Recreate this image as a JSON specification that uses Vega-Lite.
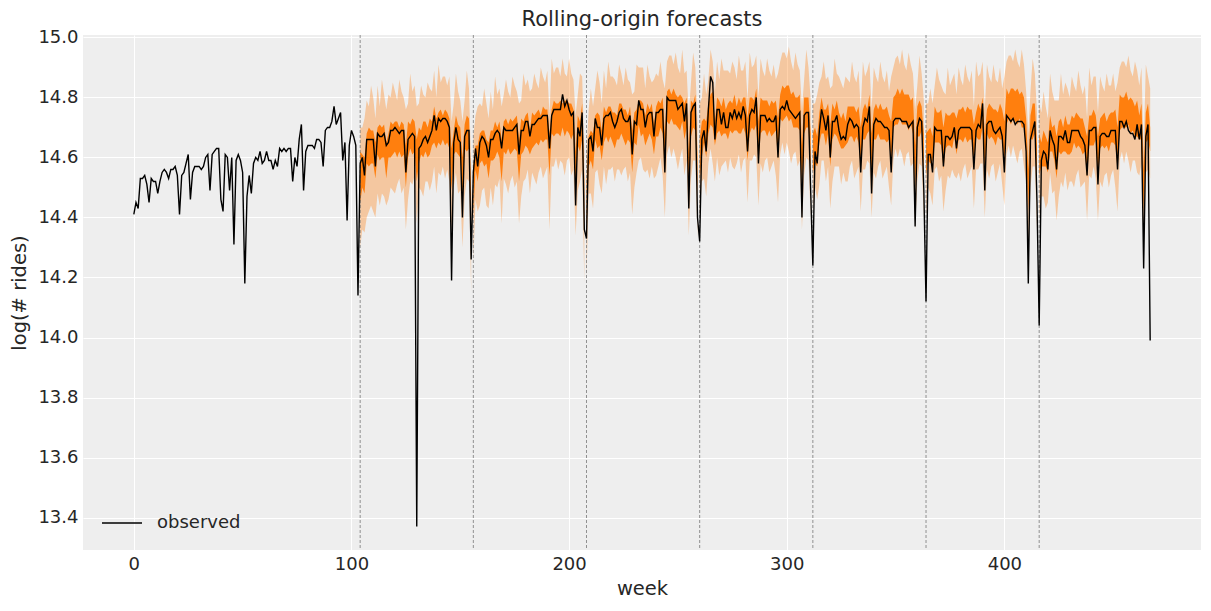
{
"$schema": "https://vega.github.io/schema/vega-lite/v6.json",
"width": 1118, "height": 515,
"autosize": {"type": "none"},
"padding": {"left": 83, "top": 35, "right": 10, "bottom": 61},
"background": "white",
"title": {"text": "Rolling-origin forecasts", "fontSize": 21, "fontWeight": "normal", "color": "#262626", "font": "DejaVu Sans", "frame": "group", "offset": -2},
"config": {
  "view": {"fill": "#eeeeee", "stroke": null},
  "font": "DejaVu Sans",
  "axis": {"grid": true, "gridColor": "#ffffff", "gridWidth": 1.1, "domain": false, "ticks": false, "labelFontSize": 18, "labelColor": "#262626", "titleFontSize": 19.5, "titleColor": "#262626", "titleFontWeight": "normal", "labelPadding": 5, "labelFont": "DejaVu Sans", "titleFont": "DejaVu Sans"},
  "legend": {"labelFont": "DejaVu Sans"}
},
"datasets": {
"origins": [{"origin":104},{"origin":156},{"origin":208},{"origin":260},{"origin":312},{"origin":364},{"origin":416}],
"obs": [
{"w":0,"y":14.41},{"w":1,"y":14.45},{"w":2,"y":14.43},{"w":3,"y":14.53},{"w":4,"y":14.53},{"w":5,"y":14.54},{"w":6,"y":14.51},{"w":7,"y":14.45},{"w":8,"y":14.53},{"w":9,"y":14.52},
{"w":10,"y":14.52},{"w":11,"y":14.48},{"w":12,"y":14.52},{"w":13,"y":14.55},{"w":14,"y":14.56},{"w":15,"y":14.55},{"w":16,"y":14.53},{"w":17,"y":14.56},{"w":18,"y":14.56},{"w":19,"y":14.57},
{"w":20,"y":14.54},{"w":21,"y":14.41},{"w":22,"y":14.54},{"w":23,"y":14.55},{"w":24,"y":14.58},{"w":25,"y":14.61},{"w":26,"y":14.46},{"w":27,"y":14.55},{"w":28,"y":14.57},{"w":29,"y":14.57},
{"w":30,"y":14.57},{"w":31,"y":14.56},{"w":32,"y":14.57},{"w":33,"y":14.60},{"w":34,"y":14.61},{"w":35,"y":14.49},{"w":36,"y":14.61},{"w":37,"y":14.62},{"w":38,"y":14.63},{"w":39,"y":14.63},
{"w":40,"y":14.46},{"w":41,"y":14.42},{"w":42,"y":14.61},{"w":43,"y":14.60},{"w":44,"y":14.49},{"w":45,"y":14.60},{"w":46,"y":14.31},{"w":47,"y":14.59},{"w":48,"y":14.61},{"w":49,"y":14.59},
{"w":50,"y":14.55},{"w":51,"y":14.18},{"w":52,"y":14.47},{"w":53,"y":14.54},{"w":54,"y":14.48},{"w":55,"y":14.58},{"w":56,"y":14.60},{"w":57,"y":14.59},{"w":58,"y":14.62},{"w":59,"y":14.58},
{"w":60,"y":14.59},{"w":61,"y":14.62},{"w":62,"y":14.59},{"w":63,"y":14.59},{"w":64,"y":14.56},{"w":65,"y":14.59},{"w":66,"y":14.57},{"w":67,"y":14.63},{"w":68,"y":14.62},{"w":69,"y":14.63},
{"w":70,"y":14.62},{"w":71,"y":14.63},{"w":72,"y":14.63},{"w":73,"y":14.52},{"w":74,"y":14.60},{"w":75,"y":14.57},{"w":76,"y":14.66},{"w":77,"y":14.71},{"w":78,"y":14.49},{"w":79,"y":14.62},
{"w":80,"y":14.64},{"w":81,"y":14.64},{"w":82,"y":14.64},{"w":83,"y":14.63},{"w":84,"y":14.66},{"w":85,"y":14.66},{"w":86,"y":14.65},{"w":87,"y":14.57},{"w":88,"y":14.69},{"w":89,"y":14.70},
{"w":90,"y":14.70},{"w":91,"y":14.72},{"w":92,"y":14.77},{"w":93,"y":14.71},{"w":94,"y":14.73},{"w":95,"y":14.75},{"w":96,"y":14.59},{"w":97,"y":14.65},{"w":98,"y":14.39},{"w":99,"y":14.64},
{"w":100,"y":14.69},{"w":101,"y":14.67},{"w":102,"y":14.64},{"w":103,"y":14.14},{"w":104,"y":14.58},{"w":105,"y":14.60},{"w":106,"y":14.54},{"w":107,"y":14.66},{"w":108,"y":14.66},{"w":109,"y":14.66},
{"w":110,"y":14.66},{"w":111,"y":14.57},{"w":112,"y":14.68},{"w":113,"y":14.67},{"w":114,"y":14.67},{"w":115,"y":14.68},{"w":116,"y":14.64},{"w":117,"y":14.65},{"w":118,"y":14.69},{"w":119,"y":14.69},
{"w":120,"y":14.70},{"w":121,"y":14.69},{"w":122,"y":14.68},{"w":123,"y":14.69},{"w":124,"y":14.69},{"w":125,"y":14.55},{"w":126,"y":14.66},{"w":127,"y":14.67},{"w":128,"y":14.68},{"w":129,"y":14.67},
{"w":130,"y":13.37},{"w":131,"y":14.63},{"w":132,"y":14.64},{"w":133,"y":14.66},{"w":134,"y":14.67},{"w":135,"y":14.65},{"w":136,"y":14.67},{"w":137,"y":14.69},{"w":138,"y":14.74},{"w":139,"y":14.69},
{"w":140,"y":14.73},{"w":141,"y":14.72},{"w":142,"y":14.73},{"w":143,"y":14.73},{"w":144,"y":14.72},{"w":145,"y":14.70},{"w":146,"y":14.19},{"w":147,"y":14.65},{"w":148,"y":14.70},{"w":149,"y":14.66},
{"w":150,"y":14.65},{"w":151,"y":14.40},{"w":152,"y":14.67},{"w":153,"y":14.69},{"w":154,"y":14.69},{"w":155,"y":14.26},{"w":156,"y":14.55},{"w":157,"y":14.63},{"w":158,"y":14.57},{"w":159,"y":14.65},
{"w":160,"y":14.67},{"w":161,"y":14.66},{"w":162,"y":14.64},{"w":163,"y":14.60},{"w":164,"y":14.66},{"w":165,"y":14.66},{"w":166,"y":14.68},{"w":167,"y":14.69},{"w":168,"y":14.68},{"w":169,"y":14.63},
{"w":170,"y":14.70},{"w":171,"y":14.69},{"w":172,"y":14.69},{"w":173,"y":14.69},{"w":174,"y":14.69},{"w":175,"y":14.70},{"w":176,"y":14.71},{"w":177,"y":14.61},{"w":178,"y":14.69},{"w":179,"y":14.69},
{"w":180,"y":14.72},{"w":181,"y":14.72},{"w":182,"y":14.67},{"w":183,"y":14.71},{"w":184,"y":14.71},{"w":185,"y":14.72},{"w":186,"y":14.73},{"w":187,"y":14.73},{"w":188,"y":14.74},{"w":189,"y":14.74},
{"w":190,"y":14.74},{"w":191,"y":14.63},{"w":192,"y":14.74},{"w":193,"y":14.76},{"w":194,"y":14.76},{"w":195,"y":14.76},{"w":196,"y":14.76},{"w":197,"y":14.81},{"w":198,"y":14.77},{"w":199,"y":14.79},
{"w":200,"y":14.76},{"w":201,"y":14.74},{"w":202,"y":14.75},{"w":203,"y":14.44},{"w":204,"y":14.70},{"w":205,"y":14.67},{"w":206,"y":14.75},{"w":207,"y":14.36},{"w":208,"y":14.33},{"w":209,"y":14.66},
{"w":210,"y":14.67},{"w":211,"y":14.62},{"w":212,"y":14.73},{"w":213,"y":14.70},{"w":214,"y":14.70},{"w":215,"y":14.64},{"w":216,"y":14.73},{"w":217,"y":14.74},{"w":218,"y":14.74},{"w":219,"y":14.75},
{"w":220,"y":14.72},{"w":221,"y":14.70},{"w":222,"y":14.72},{"w":223,"y":14.75},{"w":224,"y":14.76},{"w":225,"y":14.73},{"w":226,"y":14.72},{"w":227,"y":14.72},{"w":228,"y":14.74},{"w":229,"y":14.61},
{"w":230,"y":14.72},{"w":231,"y":14.71},{"w":232,"y":14.79},{"w":233,"y":14.76},{"w":234,"y":14.76},{"w":235,"y":14.70},{"w":236,"y":14.74},{"w":237,"y":14.75},{"w":238,"y":14.75},{"w":239,"y":14.67},
{"w":240,"y":14.75},{"w":241,"y":14.75},{"w":242,"y":14.76},{"w":243,"y":14.76},{"w":244,"y":14.55},{"w":245,"y":14.80},{"w":246,"y":14.79},{"w":247,"y":14.79},{"w":248,"y":14.79},{"w":249,"y":14.79},
{"w":250,"y":14.76},{"w":251,"y":14.77},{"w":252,"y":14.78},{"w":253,"y":14.72},{"w":254,"y":14.78},{"w":255,"y":14.43},{"w":256,"y":14.75},{"w":257,"y":14.77},{"w":258,"y":14.78},{"w":259,"y":14.40},
{"w":260,"y":14.32},{"w":261,"y":14.66},{"w":262,"y":14.69},{"w":263,"y":14.62},{"w":264,"y":14.76},{"w":265,"y":14.87},{"w":266,"y":14.85},{"w":267,"y":14.66},{"w":268,"y":14.76},{"w":269,"y":14.76},
{"w":270,"y":14.71},{"w":271,"y":14.75},{"w":272,"y":14.70},{"w":273,"y":14.70},{"w":274,"y":14.75},{"w":275,"y":14.73},{"w":276,"y":14.76},{"w":277,"y":14.73},{"w":278,"y":14.75},{"w":279,"y":14.73},
{"w":280,"y":14.77},{"w":281,"y":14.74},{"w":282,"y":14.62},{"w":283,"y":14.74},{"w":284,"y":14.76},{"w":285,"y":14.75},{"w":286,"y":14.80},{"w":287,"y":14.58},{"w":288,"y":14.74},{"w":289,"y":14.74},
{"w":290,"y":14.74},{"w":291,"y":14.72},{"w":292,"y":14.73},{"w":293,"y":14.72},{"w":294,"y":14.72},{"w":295,"y":14.74},{"w":296,"y":14.60},{"w":297,"y":14.76},{"w":298,"y":14.77},{"w":299,"y":14.76},
{"w":300,"y":14.79},{"w":301,"y":14.76},{"w":302,"y":14.75},{"w":303,"y":14.74},{"w":304,"y":14.73},{"w":305,"y":14.74},{"w":306,"y":14.75},{"w":307,"y":14.40},{"w":308,"y":14.74},{"w":309,"y":14.75},
{"w":310,"y":14.75},{"w":311,"y":14.49},{"w":312,"y":14.24},{"w":313,"y":14.62},{"w":314,"y":14.58},{"w":315,"y":14.69},{"w":316,"y":14.76},{"w":317,"y":14.73},{"w":318,"y":14.69},{"w":319,"y":14.74},
{"w":320,"y":14.60},{"w":321,"y":14.72},{"w":322,"y":14.72},{"w":323,"y":14.74},{"w":324,"y":14.69},{"w":325,"y":14.66},{"w":326,"y":14.67},{"w":327,"y":14.66},{"w":328,"y":14.71},{"w":329,"y":14.73},
{"w":330,"y":14.72},{"w":331,"y":14.70},{"w":332,"y":14.71},{"w":333,"y":14.70},{"w":334,"y":14.55},{"w":335,"y":14.70},{"w":336,"y":14.73},{"w":337,"y":14.72},{"w":338,"y":14.77},{"w":339,"y":14.48},
{"w":340,"y":14.71},{"w":341,"y":14.73},{"w":342,"y":14.72},{"w":343,"y":14.72},{"w":344,"y":14.71},{"w":345,"y":14.70},{"w":346,"y":14.70},{"w":347,"y":14.69},{"w":348,"y":14.55},{"w":349,"y":14.72},
{"w":350,"y":14.73},{"w":351,"y":14.73},{"w":352,"y":14.73},{"w":353,"y":14.72},{"w":354,"y":14.72},{"w":355,"y":14.72},{"w":356,"y":14.70},{"w":357,"y":14.71},{"w":358,"y":14.72},{"w":359,"y":14.37},
{"w":360,"y":14.70},{"w":361,"y":14.73},{"w":362,"y":14.72},{"w":363,"y":14.49},{"w":364,"y":14.12},{"w":365,"y":14.61},{"w":366,"y":14.61},{"w":367,"y":14.55},{"w":368,"y":14.70},{"w":369,"y":14.69},
{"w":370,"y":14.69},{"w":371,"y":14.69},{"w":372,"y":14.57},{"w":373,"y":14.67},{"w":374,"y":14.67},{"w":375,"y":14.66},{"w":376,"y":14.67},{"w":377,"y":14.70},{"w":378,"y":14.63},{"w":379,"y":14.69},
{"w":380,"y":14.70},{"w":381,"y":14.70},{"w":382,"y":14.70},{"w":383,"y":14.70},{"w":384,"y":14.70},{"w":385,"y":14.69},{"w":386,"y":14.56},{"w":387,"y":14.69},{"w":388,"y":14.71},{"w":389,"y":14.70},
{"w":390,"y":14.78},{"w":391,"y":14.49},{"w":392,"y":14.71},{"w":393,"y":14.72},{"w":394,"y":14.72},{"w":395,"y":14.69},{"w":396,"y":14.68},{"w":397,"y":14.69},{"w":398,"y":14.70},{"w":399,"y":14.67},
{"w":400,"y":14.55},{"w":401,"y":14.74},{"w":402,"y":14.73},{"w":403,"y":14.72},{"w":404,"y":14.73},{"w":405,"y":14.71},{"w":406,"y":14.72},{"w":407,"y":14.72},{"w":408,"y":14.72},{"w":409,"y":14.71},
{"w":410,"y":14.62},{"w":411,"y":14.18},{"w":412,"y":14.66},{"w":413,"y":14.69},{"w":414,"y":14.72},{"w":415,"y":14.45},{"w":416,"y":14.04},{"w":417,"y":14.59},{"w":418,"y":14.62},{"w":419,"y":14.61},
{"w":420,"y":14.56},{"w":421,"y":14.69},{"w":422,"y":14.66},{"w":423,"y":14.64},{"w":424,"y":14.56},{"w":425,"y":14.67},{"w":426,"y":14.67},{"w":427,"y":14.66},{"w":428,"y":14.69},{"w":429,"y":14.65},
{"w":430,"y":14.65},{"w":431,"y":14.69},{"w":432,"y":14.69},{"w":433,"y":14.69},{"w":434,"y":14.69},{"w":435,"y":14.67},{"w":436,"y":14.66},{"w":437,"y":14.64},{"w":438,"y":14.54},{"w":439,"y":14.69},
{"w":440,"y":14.69},{"w":441,"y":14.70},{"w":442,"y":14.70},{"w":443,"y":14.51},{"w":444,"y":14.67},{"w":445,"y":14.68},{"w":446,"y":14.68},{"w":447,"y":14.67},{"w":448,"y":14.67},{"w":449,"y":14.69},
{"w":450,"y":14.69},{"w":451,"y":14.69},{"w":452,"y":14.56},{"w":453,"y":14.72},{"w":454,"y":14.72},{"w":455,"y":14.70},{"w":456,"y":14.72},{"w":457,"y":14.69},{"w":458,"y":14.68},{"w":459,"y":14.68},
{"w":460,"y":14.66},{"w":461,"y":14.71},{"w":462,"y":14.66},{"w":463,"y":14.71},{"w":464,"y":14.23},{"w":465,"y":14.67},{"w":466,"y":14.71},{"w":467,"y":13.99}
],
"fc": [
{"w":104,"s":1,"lo94":14.30,"lo50":14.45,"hi50":14.62,"hi94":14.70},
{"w":105,"s":1,"lo94":14.36,"lo50":14.50,"hi50":14.61,"hi94":14.70},
{"w":106,"s":1,"lo94":14.35,"lo50":14.48,"hi50":14.60,"hi94":14.73},
{"w":107,"s":1,"lo94":14.40,"lo50":14.58,"hi50":14.68,"hi94":14.79},
{"w":108,"s":1,"lo94":14.42,"lo50":14.57,"hi50":14.70,"hi94":14.77},
{"w":109,"s":1,"lo94":14.44,"lo50":14.58,"hi50":14.69,"hi94":14.84},
{"w":110,"s":1,"lo94":14.42,"lo50":14.58,"hi50":14.69,"hi94":14.80},
{"w":111,"s":1,"lo94":14.40,"lo50":14.53,"hi50":14.65,"hi94":14.73},
{"w":112,"s":1,"lo94":14.48,"lo50":14.61,"hi50":14.70,"hi94":14.84},
{"w":113,"s":1,"lo94":14.44,"lo50":14.59,"hi50":14.71,"hi94":14.77},
{"w":114,"s":1,"lo94":14.48,"lo50":14.60,"hi50":14.70,"hi94":14.86},
{"w":115,"s":1,"lo94":14.47,"lo50":14.60,"hi50":14.71,"hi94":14.81},
{"w":116,"s":1,"lo94":14.44,"lo50":14.53,"hi50":14.65,"hi94":14.76},
{"w":117,"s":1,"lo94":14.46,"lo50":14.60,"hi50":14.68,"hi94":14.81},
{"w":118,"s":1,"lo94":14.50,"lo50":14.60,"hi50":14.72,"hi94":14.80},
{"w":119,"s":1,"lo94":14.49,"lo50":14.61,"hi50":14.71,"hi94":14.85},
{"w":120,"s":1,"lo94":14.48,"lo50":14.62,"hi50":14.72,"hi94":14.82},
{"w":121,"s":1,"lo94":14.51,"lo50":14.60,"hi50":14.72,"hi94":14.79},
{"w":122,"s":1,"lo94":14.53,"lo50":14.62,"hi50":14.70,"hi94":14.86},
{"w":123,"s":1,"lo94":14.48,"lo50":14.60,"hi50":14.72,"hi94":14.82},
{"w":124,"s":1,"lo94":14.50,"lo50":14.61,"hi50":14.71,"hi94":14.80},
{"w":125,"s":1,"lo94":14.36,"lo50":14.50,"hi50":14.64,"hi94":14.76},
{"w":126,"s":1,"lo94":14.46,"lo50":14.60,"hi50":14.72,"hi94":14.78},
{"w":127,"s":1,"lo94":14.52,"lo50":14.63,"hi50":14.71,"hi94":14.88},
{"w":128,"s":1,"lo94":14.51,"lo50":14.61,"hi50":14.73,"hi94":14.82},
{"w":129,"s":1,"lo94":14.54,"lo50":14.62,"hi50":14.72,"hi94":14.84},
{"w":130,"s":1,"lo94":14.38,"lo50":14.52,"hi50":14.66,"hi94":14.77},
{"w":131,"s":1,"lo94":14.50,"lo50":14.58,"hi50":14.70,"hi94":14.78},
{"w":132,"s":1,"lo94":14.49,"lo50":14.61,"hi50":14.69,"hi94":14.84},
{"w":133,"s":1,"lo94":14.47,"lo50":14.60,"hi50":14.72,"hi94":14.81},
{"w":134,"s":1,"lo94":14.52,"lo50":14.62,"hi50":14.72,"hi94":14.80},
{"w":135,"s":1,"lo94":14.52,"lo50":14.60,"hi50":14.70,"hi94":14.85},
{"w":136,"s":1,"lo94":14.49,"lo50":14.61,"hi50":14.73,"hi94":14.83},
{"w":137,"s":1,"lo94":14.52,"lo50":14.64,"hi50":14.72,"hi94":14.82},
{"w":138,"s":1,"lo94":14.57,"lo50":14.65,"hi50":14.77,"hi94":14.89},
{"w":139,"s":1,"lo94":14.48,"lo50":14.63,"hi50":14.73,"hi94":14.80},
{"w":140,"s":1,"lo94":14.55,"lo50":14.65,"hi50":14.75,"hi94":14.91},
{"w":141,"s":1,"lo94":14.54,"lo50":14.64,"hi50":14.76,"hi94":14.85},
{"w":142,"s":1,"lo94":14.57,"lo50":14.66,"hi50":14.74,"hi94":14.87},
{"w":143,"s":1,"lo94":14.53,"lo50":14.64,"hi50":14.76,"hi94":14.87},
{"w":144,"s":1,"lo94":14.56,"lo50":14.65,"hi50":14.75,"hi94":14.84},
{"w":145,"s":1,"lo94":14.52,"lo50":14.63,"hi50":14.73,"hi94":14.87},
{"w":146,"s":1,"lo94":14.35,"lo50":14.49,"hi50":14.63,"hi94":14.72},
{"w":147,"s":1,"lo94":14.50,"lo50":14.61,"hi50":14.69,"hi94":14.78},
{"w":148,"s":1,"lo94":14.55,"lo50":14.62,"hi50":14.74,"hi94":14.88},
{"w":149,"s":1,"lo94":14.48,"lo50":14.61,"hi50":14.71,"hi94":14.82},
{"w":150,"s":1,"lo94":14.49,"lo50":14.60,"hi50":14.70,"hi94":14.79},
{"w":151,"s":1,"lo94":14.30,"lo50":14.46,"hi50":14.60,"hi94":14.72},
{"w":152,"s":1,"lo94":14.47,"lo50":14.63,"hi50":14.71,"hi94":14.79},
{"w":153,"s":1,"lo94":14.53,"lo50":14.62,"hi50":14.74,"hi94":14.89},
{"w":154,"s":1,"lo94":14.52,"lo50":14.63,"hi50":14.73,"hi94":14.83},
{"w":155,"s":1,"lo94":14.15,"lo50":14.30,"hi50":14.48,"hi94":14.57},
{"w":156,"s":2,"lo94":14.25,"lo50":14.40,"hi50":14.57,"hi94":14.67},
{"w":157,"s":2,"lo94":14.46,"lo50":14.56,"hi50":14.64,"hi94":14.74},
{"w":158,"s":2,"lo94":14.42,"lo50":14.52,"hi50":14.64,"hi94":14.77},
{"w":159,"s":2,"lo94":14.44,"lo50":14.58,"hi50":14.68,"hi94":14.78},
{"w":160,"s":2,"lo94":14.49,"lo50":14.59,"hi50":14.69,"hi94":14.77},
{"w":161,"s":2,"lo94":14.50,"lo50":14.57,"hi50":14.69,"hi94":14.83},
{"w":162,"s":2,"lo94":14.44,"lo50":14.58,"hi50":14.66,"hi94":14.78},
{"w":163,"s":2,"lo94":14.43,"lo50":14.53,"hi50":14.65,"hi94":14.73},
{"w":164,"s":2,"lo94":14.50,"lo50":14.59,"hi50":14.69,"hi94":14.82},
{"w":165,"s":2,"lo94":14.44,"lo50":14.59,"hi50":14.69,"hi94":14.76},
{"w":166,"s":2,"lo94":14.51,"lo50":14.60,"hi50":14.72,"hi94":14.87},
{"w":167,"s":2,"lo94":14.50,"lo50":14.62,"hi50":14.70,"hi94":14.81},
{"w":168,"s":2,"lo94":14.53,"lo50":14.60,"hi50":14.72,"hi94":14.83},
{"w":169,"s":2,"lo94":14.38,"lo50":14.52,"hi50":14.66,"hi94":14.77},
{"w":170,"s":2,"lo94":14.53,"lo50":14.62,"hi50":14.72,"hi94":14.81},
{"w":171,"s":2,"lo94":14.51,"lo50":14.61,"hi50":14.73,"hi94":14.86},
{"w":172,"s":2,"lo94":14.48,"lo50":14.63,"hi50":14.71,"hi94":14.82},
{"w":173,"s":2,"lo94":14.52,"lo50":14.61,"hi50":14.73,"hi94":14.80},
{"w":174,"s":2,"lo94":14.54,"lo50":14.62,"hi50":14.72,"hi94":14.87},
{"w":175,"s":2,"lo94":14.50,"lo50":14.63,"hi50":14.73,"hi94":14.84},
{"w":176,"s":2,"lo94":14.52,"lo50":14.62,"hi50":14.74,"hi94":14.82},
{"w":177,"s":2,"lo94":14.38,"lo50":14.52,"hi50":14.66,"hi94":14.78},
{"w":178,"s":2,"lo94":14.47,"lo50":14.61,"hi50":14.73,"hi94":14.79},
{"w":179,"s":2,"lo94":14.52,"lo50":14.62,"hi50":14.72,"hi94":14.88},
{"w":180,"s":2,"lo94":14.53,"lo50":14.64,"hi50":14.74,"hi94":14.84},
{"w":181,"s":2,"lo94":14.56,"lo50":14.63,"hi50":14.75,"hi94":14.86},
{"w":182,"s":2,"lo94":14.48,"lo50":14.61,"hi50":14.69,"hi94":14.82},
{"w":183,"s":2,"lo94":14.55,"lo50":14.63,"hi50":14.75,"hi94":14.83},
{"w":184,"s":2,"lo94":14.53,"lo50":14.64,"hi50":14.74,"hi94":14.88},
{"w":185,"s":2,"lo94":14.51,"lo50":14.65,"hi50":14.75,"hi94":14.85},
{"w":186,"s":2,"lo94":14.55,"lo50":14.64,"hi50":14.76,"hi94":14.83},
{"w":187,"s":2,"lo94":14.57,"lo50":14.66,"hi50":14.74,"hi94":14.90},
{"w":188,"s":2,"lo94":14.53,"lo50":14.65,"hi50":14.77,"hi94":14.87},
{"w":189,"s":2,"lo94":14.55,"lo50":14.66,"hi50":14.76,"hi94":14.85},
{"w":190,"s":2,"lo94":14.57,"lo50":14.66,"hi50":14.76,"hi94":14.89},
{"w":191,"s":2,"lo94":14.36,"lo50":14.54,"hi50":14.68,"hi94":14.74},
{"w":192,"s":2,"lo94":14.57,"lo50":14.68,"hi50":14.76,"hi94":14.93},
{"w":193,"s":2,"lo94":14.57,"lo50":14.67,"hi50":14.79,"hi94":14.88},
{"w":194,"s":2,"lo94":14.60,"lo50":14.68,"hi50":14.78,"hi94":14.90},
{"w":195,"s":2,"lo94":14.56,"lo50":14.68,"hi50":14.78,"hi94":14.90},
{"w":196,"s":2,"lo94":14.59,"lo50":14.67,"hi50":14.79,"hi94":14.87},
{"w":197,"s":2,"lo94":14.58,"lo50":14.70,"hi50":14.78,"hi94":14.93},
{"w":198,"s":2,"lo94":14.54,"lo50":14.67,"hi50":14.79,"hi94":14.88},
{"w":199,"s":2,"lo94":14.59,"lo50":14.69,"hi50":14.79,"hi94":14.87},
{"w":200,"s":2,"lo94":14.60,"lo50":14.68,"hi50":14.78,"hi94":14.93},
{"w":201,"s":2,"lo94":14.54,"lo50":14.66,"hi50":14.78,"hi94":14.88},
{"w":202,"s":2,"lo94":14.56,"lo50":14.68,"hi50":14.76,"hi94":14.86},
{"w":203,"s":2,"lo94":14.34,"lo50":14.48,"hi50":14.62,"hi94":14.74},
{"w":204,"s":2,"lo94":14.49,"lo50":14.64,"hi50":14.74,"hi94":14.81},
{"w":205,"s":2,"lo94":14.52,"lo50":14.62,"hi50":14.72,"hi94":14.88},
{"w":206,"s":2,"lo94":14.56,"lo50":14.66,"hi50":14.78,"hi94":14.87},
{"w":207,"s":2,"lo94":14.18,"lo50":14.35,"hi50":14.53,"hi94":14.62},
{"w":208,"s":3,"lo94":14.20,"lo50":14.35,"hi50":14.52,"hi94":14.62},
{"w":209,"s":3,"lo94":14.48,"lo50":14.57,"hi50":14.67,"hi94":14.76},
{"w":210,"s":3,"lo94":14.48,"lo50":14.59,"hi50":14.69,"hi94":14.83},
{"w":211,"s":3,"lo94":14.43,"lo50":14.56,"hi50":14.68,"hi94":14.77},
{"w":212,"s":3,"lo94":14.55,"lo50":14.66,"hi50":14.74,"hi94":14.83},
{"w":213,"s":3,"lo94":14.56,"lo50":14.63,"hi50":14.75,"hi94":14.89},
{"w":214,"s":3,"lo94":14.51,"lo50":14.64,"hi50":14.74,"hi94":14.85},
{"w":215,"s":3,"lo94":14.48,"lo50":14.59,"hi50":14.69,"hi94":14.78},
{"w":216,"s":3,"lo94":14.57,"lo50":14.65,"hi50":14.77,"hi94":14.89},
{"w":217,"s":3,"lo94":14.51,"lo50":14.67,"hi50":14.75,"hi94":14.83},
{"w":218,"s":3,"lo94":14.56,"lo50":14.65,"hi50":14.77,"hi94":14.92},
{"w":219,"s":3,"lo94":14.56,"lo50":14.67,"hi50":14.77,"hi94":14.87},
{"w":220,"s":3,"lo94":14.57,"lo50":14.65,"hi50":14.75,"hi94":14.87},
{"w":221,"s":3,"lo94":14.52,"lo50":14.63,"hi50":14.75,"hi94":14.86},
{"w":222,"s":3,"lo94":14.56,"lo50":14.66,"hi50":14.74,"hi94":14.84},
{"w":223,"s":3,"lo94":14.56,"lo50":14.66,"hi50":14.78,"hi94":14.91},
{"w":224,"s":3,"lo94":14.54,"lo50":14.68,"hi50":14.78,"hi94":14.88},
{"w":225,"s":3,"lo94":14.56,"lo50":14.66,"hi50":14.76,"hi94":14.84},
{"w":226,"s":3,"lo94":14.57,"lo50":14.64,"hi50":14.76,"hi94":14.90},
{"w":227,"s":3,"lo94":14.52,"lo50":14.66,"hi50":14.74,"hi94":14.86},
{"w":228,"s":3,"lo94":14.55,"lo50":14.65,"hi50":14.77,"hi94":14.85},
{"w":229,"s":3,"lo94":14.41,"lo50":14.55,"hi50":14.69,"hi94":14.81},
{"w":230,"s":3,"lo94":14.50,"lo50":14.65,"hi50":14.75,"hi94":14.82},
{"w":231,"s":3,"lo94":14.55,"lo50":14.64,"hi50":14.76,"hi94":14.91},
{"w":232,"s":3,"lo94":14.59,"lo50":14.71,"hi50":14.79,"hi94":14.90},
{"w":233,"s":3,"lo94":14.60,"lo50":14.67,"hi50":14.79,"hi94":14.90},
{"w":234,"s":3,"lo94":14.56,"lo50":14.68,"hi50":14.78,"hi94":14.90},
{"w":235,"s":3,"lo94":14.55,"lo50":14.64,"hi50":14.74,"hi94":14.83},
{"w":236,"s":3,"lo94":14.56,"lo50":14.66,"hi50":14.78,"hi94":14.91},
{"w":237,"s":3,"lo94":14.53,"lo50":14.68,"hi50":14.76,"hi94":14.87},
{"w":238,"s":3,"lo94":14.57,"lo50":14.66,"hi50":14.78,"hi94":14.85},
{"w":239,"s":3,"lo94":14.53,"lo50":14.61,"hi50":14.71,"hi94":14.86},
{"w":240,"s":3,"lo94":14.54,"lo50":14.67,"hi50":14.77,"hi94":14.88},
{"w":241,"s":3,"lo94":14.57,"lo50":14.67,"hi50":14.79,"hi94":14.87},
{"w":242,"s":3,"lo94":14.60,"lo50":14.70,"hi50":14.78,"hi94":14.92},
{"w":243,"s":3,"lo94":14.54,"lo50":14.68,"hi50":14.80,"hi94":14.86},
{"w":244,"s":3,"lo94":14.40,"lo50":14.54,"hi50":14.68,"hi94":14.83},
{"w":245,"s":3,"lo94":14.61,"lo50":14.72,"hi50":14.82,"hi94":14.92},
{"w":246,"s":3,"lo94":14.64,"lo50":14.71,"hi50":14.83,"hi94":14.94},
{"w":247,"s":3,"lo94":14.60,"lo50":14.73,"hi50":14.81,"hi94":14.94},
{"w":248,"s":3,"lo94":14.63,"lo50":14.71,"hi50":14.83,"hi94":14.91},
{"w":249,"s":3,"lo94":14.60,"lo50":14.71,"hi50":14.81,"hi94":14.95},
{"w":250,"s":3,"lo94":14.56,"lo50":14.70,"hi50":14.80,"hi94":14.90},
{"w":251,"s":3,"lo94":14.60,"lo50":14.69,"hi50":14.81,"hi94":14.88},
{"w":252,"s":3,"lo94":14.63,"lo50":14.72,"hi50":14.80,"hi94":14.96},
{"w":253,"s":3,"lo94":14.54,"lo50":14.66,"hi50":14.78,"hi94":14.88},
{"w":254,"s":3,"lo94":14.59,"lo50":14.70,"hi50":14.80,"hi94":14.89},
{"w":255,"s":3,"lo94":14.34,"lo50":14.48,"hi50":14.62,"hi94":14.74},
{"w":256,"s":3,"lo94":14.53,"lo50":14.67,"hi50":14.79,"hi94":14.85},
{"w":257,"s":3,"lo94":14.59,"lo50":14.70,"hi50":14.78,"hi94":14.95},
{"w":258,"s":3,"lo94":14.59,"lo50":14.69,"hi50":14.81,"hi94":14.90},
{"w":259,"s":3,"lo94":14.33,"lo50":14.47,"hi50":14.61,"hi94":14.72},
{"w":260,"s":4,"lo94":14.40,"lo50":14.52,"hi50":14.66,"hi94":14.78},
{"w":261,"s":4,"lo94":14.52,"lo50":14.60,"hi50":14.72,"hi94":14.80},
{"w":262,"s":4,"lo94":14.53,"lo50":14.65,"hi50":14.73,"hi94":14.88},
{"w":263,"s":4,"lo94":14.47,"lo50":14.60,"hi50":14.72,"hi94":14.81},
{"w":264,"s":4,"lo94":14.58,"lo50":14.68,"hi50":14.78,"hi94":14.86},
{"w":265,"s":4,"lo94":14.63,"lo50":14.71,"hi50":14.81,"hi94":14.96},
{"w":266,"s":4,"lo94":14.58,"lo50":14.70,"hi50":14.82,"hi94":14.92},
{"w":267,"s":4,"lo94":14.52,"lo50":14.64,"hi50":14.72,"hi94":14.82},
{"w":268,"s":4,"lo94":14.60,"lo50":14.68,"hi50":14.80,"hi94":14.92},
{"w":269,"s":4,"lo94":14.54,"lo50":14.69,"hi50":14.79,"hi94":14.86},
{"w":270,"s":4,"lo94":14.57,"lo50":14.67,"hi50":14.77,"hi94":14.93},
{"w":271,"s":4,"lo94":14.58,"lo50":14.68,"hi50":14.80,"hi94":14.89},
{"w":272,"s":4,"lo94":14.59,"lo50":14.68,"hi50":14.76,"hi94":14.89},
{"w":273,"s":4,"lo94":14.55,"lo50":14.66,"hi50":14.78,"hi94":14.89},
{"w":274,"s":4,"lo94":14.60,"lo50":14.69,"hi50":14.79,"hi94":14.88},
{"w":275,"s":4,"lo94":14.57,"lo50":14.68,"hi50":14.78,"hi94":14.92},
{"w":276,"s":4,"lo94":14.56,"lo50":14.69,"hi50":14.81,"hi94":14.90},
{"w":277,"s":4,"lo94":14.58,"lo50":14.69,"hi50":14.77,"hi94":14.86},
{"w":278,"s":4,"lo94":14.61,"lo50":14.68,"hi50":14.80,"hi94":14.94},
{"w":279,"s":4,"lo94":14.55,"lo50":14.68,"hi50":14.78,"hi94":14.89},
{"w":280,"s":4,"lo94":14.59,"lo50":14.70,"hi50":14.80,"hi94":14.89},
{"w":281,"s":4,"lo94":14.60,"lo50":14.68,"hi50":14.80,"hi94":14.92},
{"w":282,"s":4,"lo94":14.45,"lo50":14.59,"hi50":14.73,"hi94":14.79},
{"w":283,"s":4,"lo94":14.59,"lo50":14.68,"hi50":14.80,"hi94":14.95},
{"w":284,"s":4,"lo94":14.59,"lo50":14.70,"hi50":14.80,"hi94":14.90},
{"w":285,"s":4,"lo94":14.61,"lo50":14.69,"hi50":14.79,"hi94":14.91},
{"w":286,"s":4,"lo94":14.60,"lo50":14.71,"hi50":14.83,"hi94":14.94},
{"w":287,"s":4,"lo94":14.44,"lo50":14.58,"hi50":14.72,"hi94":14.80},
{"w":288,"s":4,"lo94":14.58,"lo50":14.68,"hi50":14.80,"hi94":14.93},
{"w":289,"s":4,"lo94":14.55,"lo50":14.69,"hi50":14.79,"hi94":14.89},
{"w":290,"s":4,"lo94":14.59,"lo50":14.69,"hi50":14.79,"hi94":14.87},
{"w":291,"s":4,"lo94":14.60,"lo50":14.67,"hi50":14.79,"hi94":14.93},
{"w":292,"s":4,"lo94":14.55,"lo50":14.69,"hi50":14.77,"hi94":14.89},
{"w":293,"s":4,"lo94":14.57,"lo50":14.67,"hi50":14.79,"hi94":14.87},
{"w":294,"s":4,"lo94":14.59,"lo50":14.68,"hi50":14.78,"hi94":14.91},
{"w":295,"s":4,"lo94":14.54,"lo50":14.69,"hi50":14.79,"hi94":14.86},
{"w":296,"s":4,"lo94":14.45,"lo50":14.59,"hi50":14.73,"hi94":14.88},
{"w":297,"s":4,"lo94":14.61,"lo50":14.73,"hi50":14.81,"hi94":14.92},
{"w":298,"s":4,"lo94":14.65,"lo50":14.72,"hi50":14.84,"hi94":14.95},
{"w":299,"s":4,"lo94":14.61,"lo50":14.73,"hi50":14.83,"hi94":14.95},
{"w":300,"s":4,"lo94":14.65,"lo50":14.74,"hi50":14.84,"hi94":14.93},
{"w":301,"s":4,"lo94":14.62,"lo50":14.72,"hi50":14.84,"hi94":14.97},
{"w":302,"s":4,"lo94":14.58,"lo50":14.73,"hi50":14.81,"hi94":14.92},
{"w":303,"s":4,"lo94":14.61,"lo50":14.70,"hi50":14.82,"hi94":14.89},
{"w":304,"s":4,"lo94":14.62,"lo50":14.70,"hi50":14.80,"hi94":14.95},
{"w":305,"s":4,"lo94":14.57,"lo50":14.70,"hi50":14.80,"hi94":14.91},
{"w":306,"s":4,"lo94":14.59,"lo50":14.69,"hi50":14.81,"hi94":14.89},
{"w":307,"s":4,"lo94":14.36,"lo50":14.50,"hi50":14.64,"hi94":14.76},
{"w":308,"s":4,"lo94":14.54,"lo50":14.68,"hi50":14.80,"hi94":14.86},
{"w":309,"s":4,"lo94":14.60,"lo50":14.70,"hi50":14.80,"hi94":14.96},
{"w":310,"s":4,"lo94":14.59,"lo50":14.70,"hi50":14.80,"hi94":14.90},
{"w":311,"s":4,"lo94":14.40,"lo50":14.54,"hi50":14.68,"hi94":14.79},
{"w":312,"s":5,"lo94":14.42,"lo50":14.55,"hi50":14.68,"hi94":14.78},
{"w":313,"s":5,"lo94":14.50,"lo50":14.58,"hi50":14.70,"hi94":14.78},
{"w":314,"s":5,"lo94":14.46,"lo50":14.57,"hi50":14.67,"hi94":14.81},
{"w":315,"s":5,"lo94":14.51,"lo50":14.65,"hi50":14.75,"hi94":14.85},
{"w":316,"s":5,"lo94":14.59,"lo50":14.68,"hi50":14.80,"hi94":14.87},
{"w":317,"s":5,"lo94":14.59,"lo50":14.68,"hi50":14.76,"hi94":14.92},
{"w":318,"s":5,"lo94":14.52,"lo50":14.64,"hi50":14.76,"hi94":14.86},
{"w":319,"s":5,"lo94":14.57,"lo50":14.68,"hi50":14.78,"hi94":14.87},
{"w":320,"s":5,"lo94":14.43,"lo50":14.57,"hi50":14.71,"hi94":14.83},
{"w":321,"s":5,"lo94":14.52,"lo50":14.66,"hi50":14.78,"hi94":14.84},
{"w":322,"s":5,"lo94":14.57,"lo50":14.68,"hi50":14.76,"hi94":14.93},
{"w":323,"s":5,"lo94":14.57,"lo50":14.67,"hi50":14.79,"hi94":14.88},
{"w":324,"s":5,"lo94":14.57,"lo50":14.65,"hi50":14.75,"hi94":14.87},
{"w":325,"s":5,"lo94":14.51,"lo50":14.63,"hi50":14.73,"hi94":14.85},
{"w":326,"s":5,"lo94":14.55,"lo50":14.63,"hi50":14.75,"hi94":14.83},
{"w":327,"s":5,"lo94":14.52,"lo50":14.64,"hi50":14.72,"hi94":14.87},
{"w":328,"s":5,"lo94":14.52,"lo50":14.65,"hi50":14.77,"hi94":14.86},
{"w":329,"s":5,"lo94":14.57,"lo50":14.67,"hi50":14.77,"hi94":14.85},
{"w":330,"s":5,"lo94":14.59,"lo50":14.67,"hi50":14.77,"hi94":14.92},
{"w":331,"s":5,"lo94":14.53,"lo50":14.65,"hi50":14.77,"hi94":14.87},
{"w":332,"s":5,"lo94":14.55,"lo50":14.67,"hi50":14.75,"hi94":14.85},
{"w":333,"s":5,"lo94":14.57,"lo50":14.65,"hi50":14.77,"hi94":14.89},
{"w":334,"s":5,"lo94":14.42,"lo50":14.56,"hi50":14.70,"hi94":14.76},
{"w":335,"s":5,"lo94":14.56,"lo50":14.66,"hi50":14.76,"hi94":14.92},
{"w":336,"s":5,"lo94":14.56,"lo50":14.66,"hi50":14.78,"hi94":14.87},
{"w":337,"s":5,"lo94":14.59,"lo50":14.68,"hi50":14.76,"hi94":14.89},
{"w":338,"s":5,"lo94":14.58,"lo50":14.69,"hi50":14.81,"hi94":14.92},
{"w":339,"s":5,"lo94":14.40,"lo50":14.54,"hi50":14.68,"hi94":14.76},
{"w":340,"s":5,"lo94":14.55,"lo50":14.66,"hi50":14.76,"hi94":14.90},
{"w":341,"s":5,"lo94":14.53,"lo50":14.66,"hi50":14.78,"hi94":14.87},
{"w":342,"s":5,"lo94":14.57,"lo50":14.68,"hi50":14.76,"hi94":14.85},
{"w":343,"s":5,"lo94":14.59,"lo50":14.66,"hi50":14.78,"hi94":14.92},
{"w":344,"s":5,"lo94":14.53,"lo50":14.66,"hi50":14.76,"hi94":14.87},
{"w":345,"s":5,"lo94":14.55,"lo50":14.66,"hi50":14.76,"hi94":14.85},
{"w":346,"s":5,"lo94":14.57,"lo50":14.65,"hi50":14.77,"hi94":14.89},
{"w":347,"s":5,"lo94":14.50,"lo50":14.66,"hi50":14.74,"hi94":14.82},
{"w":348,"s":5,"lo94":14.44,"lo50":14.58,"hi50":14.72,"hi94":14.87},
{"w":349,"s":5,"lo94":14.59,"lo50":14.70,"hi50":14.80,"hi94":14.90},
{"w":350,"s":5,"lo94":14.63,"lo50":14.71,"hi50":14.81,"hi94":14.93},
{"w":351,"s":5,"lo94":14.60,"lo50":14.71,"hi50":14.83,"hi94":14.94},
{"w":352,"s":5,"lo94":14.63,"lo50":14.73,"hi50":14.81,"hi94":14.91},
{"w":353,"s":5,"lo94":14.61,"lo50":14.71,"hi50":14.83,"hi94":14.96},
{"w":354,"s":5,"lo94":14.57,"lo50":14.71,"hi50":14.81,"hi94":14.91},
{"w":355,"s":5,"lo94":14.61,"lo50":14.71,"hi50":14.81,"hi94":14.89},
{"w":356,"s":5,"lo94":14.62,"lo50":14.69,"hi50":14.81,"hi94":14.95},
{"w":357,"s":5,"lo94":14.57,"lo50":14.71,"hi50":14.79,"hi94":14.91},
{"w":358,"s":5,"lo94":14.58,"lo50":14.68,"hi50":14.80,"hi94":14.88},
{"w":359,"s":5,"lo94":14.36,"lo50":14.50,"hi50":14.64,"hi94":14.76},
{"w":360,"s":5,"lo94":14.52,"lo50":14.67,"hi50":14.77,"hi94":14.84},
{"w":361,"s":5,"lo94":14.58,"lo50":14.67,"hi50":14.79,"hi94":14.94},
{"w":362,"s":5,"lo94":14.57,"lo50":14.69,"hi50":14.77,"hi94":14.88},
{"w":363,"s":5,"lo94":14.40,"lo50":14.54,"hi50":14.68,"hi94":14.79},
{"w":364,"s":6,"lo94":14.40,"lo50":14.54,"hi50":14.68,"hi94":14.78},
{"w":365,"s":6,"lo94":14.50,"lo50":14.59,"hi50":14.69,"hi94":14.78},
{"w":366,"s":6,"lo94":14.48,"lo50":14.58,"hi50":14.70,"hi94":14.83},
{"w":367,"s":6,"lo94":14.44,"lo50":14.59,"hi50":14.67,"hi94":14.78},
{"w":368,"s":6,"lo94":14.56,"lo50":14.65,"hi50":14.77,"hi94":14.84},
{"w":369,"s":6,"lo94":14.57,"lo50":14.65,"hi50":14.75,"hi94":14.90},
{"w":370,"s":6,"lo94":14.52,"lo50":14.65,"hi50":14.75,"hi94":14.86},
{"w":371,"s":6,"lo94":14.54,"lo50":14.64,"hi50":14.76,"hi94":14.84},
{"w":372,"s":6,"lo94":14.42,"lo50":14.56,"hi50":14.70,"hi94":14.82},
{"w":373,"s":6,"lo94":14.49,"lo50":14.63,"hi50":14.75,"hi94":14.81},
{"w":374,"s":6,"lo94":14.54,"lo50":14.64,"hi50":14.74,"hi94":14.90},
{"w":375,"s":6,"lo94":14.53,"lo50":14.64,"hi50":14.74,"hi94":14.84},
{"w":376,"s":6,"lo94":14.56,"lo50":14.63,"hi50":14.75,"hi94":14.86},
{"w":377,"s":6,"lo94":14.54,"lo50":14.67,"hi50":14.75,"hi94":14.88},
{"w":378,"s":6,"lo94":14.53,"lo50":14.61,"hi50":14.73,"hi94":14.81},
{"w":379,"s":6,"lo94":14.55,"lo50":14.66,"hi50":14.76,"hi94":14.90},
{"w":380,"s":6,"lo94":14.52,"lo50":14.66,"hi50":14.76,"hi94":14.86},
{"w":381,"s":6,"lo94":14.56,"lo50":14.65,"hi50":14.77,"hi94":14.84},
{"w":382,"s":6,"lo94":14.58,"lo50":14.67,"hi50":14.75,"hi94":14.91},
{"w":383,"s":6,"lo94":14.53,"lo50":14.65,"hi50":14.77,"hi94":14.87},
{"w":384,"s":6,"lo94":14.55,"lo50":14.66,"hi50":14.76,"hi94":14.85},
{"w":385,"s":6,"lo94":14.57,"lo50":14.66,"hi50":14.76,"hi94":14.89},
{"w":386,"s":6,"lo94":14.43,"lo50":14.57,"hi50":14.71,"hi94":14.77},
{"w":387,"s":6,"lo94":14.56,"lo50":14.67,"hi50":14.75,"hi94":14.92},
{"w":388,"s":6,"lo94":14.56,"lo50":14.66,"hi50":14.78,"hi94":14.87},
{"w":389,"s":6,"lo94":14.58,"lo50":14.66,"hi50":14.76,"hi94":14.88},
{"w":390,"s":6,"lo94":14.58,"lo50":14.70,"hi50":14.80,"hi94":14.92},
{"w":391,"s":6,"lo94":14.40,"lo50":14.54,"hi50":14.68,"hi94":14.76},
{"w":392,"s":6,"lo94":14.56,"lo50":14.68,"hi50":14.76,"hi94":14.91},
{"w":393,"s":6,"lo94":14.53,"lo50":14.66,"hi50":14.78,"hi94":14.87},
{"w":394,"s":6,"lo94":14.57,"lo50":14.67,"hi50":14.77,"hi94":14.85},
{"w":395,"s":6,"lo94":14.58,"lo50":14.66,"hi50":14.76,"hi94":14.91},
{"w":396,"s":6,"lo94":14.52,"lo50":14.64,"hi50":14.76,"hi94":14.86},
{"w":397,"s":6,"lo94":14.55,"lo50":14.67,"hi50":14.75,"hi94":14.85},
{"w":398,"s":6,"lo94":14.58,"lo50":14.66,"hi50":14.78,"hi94":14.90},
{"w":399,"s":6,"lo94":14.51,"lo50":14.66,"hi50":14.76,"hi94":14.83},
{"w":400,"s":6,"lo94":14.44,"lo50":14.58,"hi50":14.72,"hi94":14.87},
{"w":401,"s":6,"lo94":14.61,"lo50":14.71,"hi50":14.83,"hi94":14.92},
{"w":402,"s":6,"lo94":14.64,"lo50":14.73,"hi50":14.81,"hi94":14.94},
{"w":403,"s":6,"lo94":14.60,"lo50":14.71,"hi50":14.83,"hi94":14.94},
{"w":404,"s":6,"lo94":14.64,"lo50":14.73,"hi50":14.83,"hi94":14.92},
{"w":405,"s":6,"lo94":14.61,"lo50":14.72,"hi50":14.82,"hi94":14.96},
{"w":406,"s":6,"lo94":14.58,"lo50":14.71,"hi50":14.83,"hi94":14.92},
{"w":407,"s":6,"lo94":14.62,"lo50":14.73,"hi50":14.81,"hi94":14.90},
{"w":408,"s":6,"lo94":14.63,"lo50":14.70,"hi50":14.82,"hi94":14.96},
{"w":409,"s":6,"lo94":14.57,"lo50":14.70,"hi50":14.80,"hi94":14.91},
{"w":410,"s":6,"lo94":14.52,"lo50":14.63,"hi50":14.73,"hi94":14.82},
{"w":411,"s":6,"lo94":14.28,"lo50":14.42,"hi50":14.56,"hi94":14.68},
{"w":412,"s":6,"lo94":14.50,"lo50":14.66,"hi50":14.74,"hi94":14.82},
{"w":413,"s":6,"lo94":14.57,"lo50":14.66,"hi50":14.78,"hi94":14.93},
{"w":414,"s":6,"lo94":14.57,"lo50":14.68,"hi50":14.78,"hi94":14.88},
{"w":415,"s":6,"lo94":14.36,"lo50":14.50,"hi50":14.64,"hi94":14.75},
{"w":416,"s":7,"lo94":14.40,"lo50":14.54,"hi50":14.68,"hi94":14.78},
{"w":417,"s":7,"lo94":14.47,"lo50":14.57,"hi50":14.65,"hi94":14.75},
{"w":418,"s":7,"lo94":14.47,"lo50":14.57,"hi50":14.69,"hi94":14.82},
{"w":419,"s":7,"lo94":14.43,"lo50":14.57,"hi50":14.67,"hi94":14.77},
{"w":420,"s":7,"lo94":14.45,"lo50":14.55,"hi50":14.65,"hi94":14.73},
{"w":421,"s":7,"lo94":14.55,"lo50":14.62,"hi50":14.74,"hi94":14.88},
{"w":422,"s":7,"lo94":14.48,"lo50":14.62,"hi50":14.70,"hi94":14.82},
{"w":423,"s":7,"lo94":14.49,"lo50":14.59,"hi50":14.71,"hi94":14.79},
{"w":424,"s":7,"lo94":14.39,"lo50":14.53,"hi50":14.67,"hi94":14.79},
{"w":425,"s":7,"lo94":14.47,"lo50":14.62,"hi50":14.72,"hi94":14.79},
{"w":426,"s":7,"lo94":14.52,"lo50":14.61,"hi50":14.73,"hi94":14.88},
{"w":427,"s":7,"lo94":14.50,"lo50":14.62,"hi50":14.70,"hi94":14.81},
{"w":428,"s":7,"lo94":14.55,"lo50":14.62,"hi50":14.74,"hi94":14.85},
{"w":429,"s":7,"lo94":14.49,"lo50":14.61,"hi50":14.71,"hi94":14.83},
{"w":430,"s":7,"lo94":14.52,"lo50":14.61,"hi50":14.71,"hi94":14.80},
{"w":431,"s":7,"lo94":14.52,"lo50":14.62,"hi50":14.74,"hi94":14.87},
{"w":432,"s":7,"lo94":14.50,"lo50":14.65,"hi50":14.73,"hi94":14.84},
{"w":433,"s":7,"lo94":14.54,"lo50":14.63,"hi50":14.75,"hi94":14.82},
{"w":434,"s":7,"lo94":14.56,"lo50":14.64,"hi50":14.74,"hi94":14.89},
{"w":435,"s":7,"lo94":14.50,"lo50":14.63,"hi50":14.73,"hi94":14.84},
{"w":436,"s":7,"lo94":14.51,"lo50":14.61,"hi50":14.73,"hi94":14.81},
{"w":437,"s":7,"lo94":14.52,"lo50":14.62,"hi50":14.70,"hi94":14.84},
{"w":438,"s":7,"lo94":14.39,"lo50":14.53,"hi50":14.67,"hi94":14.73},
{"w":439,"s":7,"lo94":14.54,"lo50":14.64,"hi50":14.74,"hi94":14.90},
{"w":440,"s":7,"lo94":14.53,"lo50":14.64,"hi50":14.74,"hi94":14.84},
{"w":441,"s":7,"lo94":14.57,"lo50":14.64,"hi50":14.76,"hi94":14.87},
{"w":442,"s":7,"lo94":14.53,"lo50":14.66,"hi50":14.74,"hi94":14.87},
{"w":443,"s":7,"lo94":14.39,"lo50":14.53,"hi50":14.67,"hi94":14.75},
{"w":444,"s":7,"lo94":14.52,"lo50":14.63,"hi50":14.73,"hi94":14.87},
{"w":445,"s":7,"lo94":14.50,"lo50":14.64,"hi50":14.74,"hi94":14.84},
{"w":446,"s":7,"lo94":14.54,"lo50":14.63,"hi50":14.75,"hi94":14.82},
{"w":447,"s":7,"lo94":14.55,"lo50":14.64,"hi50":14.72,"hi94":14.88},
{"w":448,"s":7,"lo94":14.50,"lo50":14.62,"hi50":14.74,"hi94":14.84},
{"w":449,"s":7,"lo94":14.54,"lo50":14.65,"hi50":14.75,"hi94":14.84},
{"w":450,"s":7,"lo94":14.56,"lo50":14.65,"hi50":14.75,"hi94":14.88},
{"w":451,"s":7,"lo94":14.50,"lo50":14.64,"hi50":14.76,"hi94":14.82},
{"w":452,"s":7,"lo94":14.42,"lo50":14.56,"hi50":14.70,"hi94":14.85},
{"w":453,"s":7,"lo94":14.59,"lo50":14.69,"hi50":14.81,"hi94":14.90},
{"w":454,"s":7,"lo94":14.62,"lo50":14.70,"hi50":14.80,"hi94":14.92},
{"w":455,"s":7,"lo94":14.58,"lo50":14.70,"hi50":14.80,"hi94":14.92},
{"w":456,"s":7,"lo94":14.62,"lo50":14.70,"hi50":14.82,"hi94":14.90},
{"w":457,"s":7,"lo94":14.59,"lo50":14.71,"hi50":14.79,"hi94":14.94},
{"w":458,"s":7,"lo94":14.55,"lo50":14.68,"hi50":14.80,"hi94":14.89},
{"w":459,"s":7,"lo94":14.59,"lo50":14.69,"hi50":14.79,"hi94":14.87},
{"w":460,"s":7,"lo94":14.59,"lo50":14.67,"hi50":14.77,"hi94":14.92},
{"w":461,"s":7,"lo94":14.55,"lo50":14.67,"hi50":14.79,"hi94":14.89},
{"w":462,"s":7,"lo94":14.54,"lo50":14.66,"hi50":14.74,"hi94":14.84},
{"w":463,"s":7,"lo94":14.58,"lo50":14.66,"hi50":14.78,"hi94":14.90},
{"w":464,"s":7,"lo94":14.28,"lo50":14.42,"hi50":14.56,"hi94":14.62},
{"w":465,"s":7,"lo94":14.55,"lo50":14.65,"hi50":14.75,"hi94":14.91},
{"w":466,"s":7,"lo94":14.56,"lo50":14.66,"hi50":14.78,"hi94":14.87},
{"w":467,"s":7,"lo94":14.53,"lo50":14.62,"hi50":14.70,"hi94":14.83}
]
},
"layer": [
{"data": {"name": "fc"},
 "mark": {"type": "area", "color": "#ff7f0e", "opacity": 0.35},
 "encoding": {
  "x": {"field": "w", "type": "quantitative", "title": "week", "scale": {"domain": [-23.35, 490.35], "nice": false, "zero": false}, "axis": {"values": [0, 100, 200, 300, 400], "titlePadding": 6}},
  "y": {"field": "lo94", "type": "quantitative", "title": "log(# rides)", "scale": {"domain": [13.292, 15.008], "nice": false, "zero": false}, "axis": {"values": [13.4, 13.6, 13.8, 14.0, 14.2, 14.4, 14.6, 14.8, 15.0], "format": ".1f", "titlePadding": 8}},
  "y2": {"field": "hi94"},
  "detail": {"field": "s", "type": "nominal"}}},
{"data": {"name": "fc"},
 "mark": {"type": "area", "color": "#ff7f0e", "opacity": 1},
 "encoding": {
  "x": {"field": "w", "type": "quantitative", "title": "week"},
  "y": {"field": "lo50", "type": "quantitative", "title": "log(# rides)"},
  "y2": {"field": "hi50"},
  "detail": {"field": "s", "type": "nominal"}}},
{"data": {"name": "origins"},
 "mark": {"type": "rule", "color": "#777777", "strokeWidth": 0.8, "strokeDash": [3, 2]},
 "encoding": {"x": {"field": "origin", "type": "quantitative", "title": "week"}}},
{"data": {"name": "obs"},
 "mark": {"type": "line", "strokeWidth": 1.4},
 "encoding": {
  "x": {"field": "w", "type": "quantitative", "title": "week"},
  "y": {"field": "y", "type": "quantitative", "title": "log(# rides)"},
  "color": {"datum": "observed", "type": "nominal", "scale": {"range": ["#000000"]},
   "legend": {"title": null, "orient": "bottom-left", "offset": 18, "symbolType": "stroke", "symbolSize": 1600, "symbolStrokeWidth": 1.4, "labelFontSize": 18, "labelOffset": 14, "labelColor": "#262626", "padding": 0}}}}
]
}
